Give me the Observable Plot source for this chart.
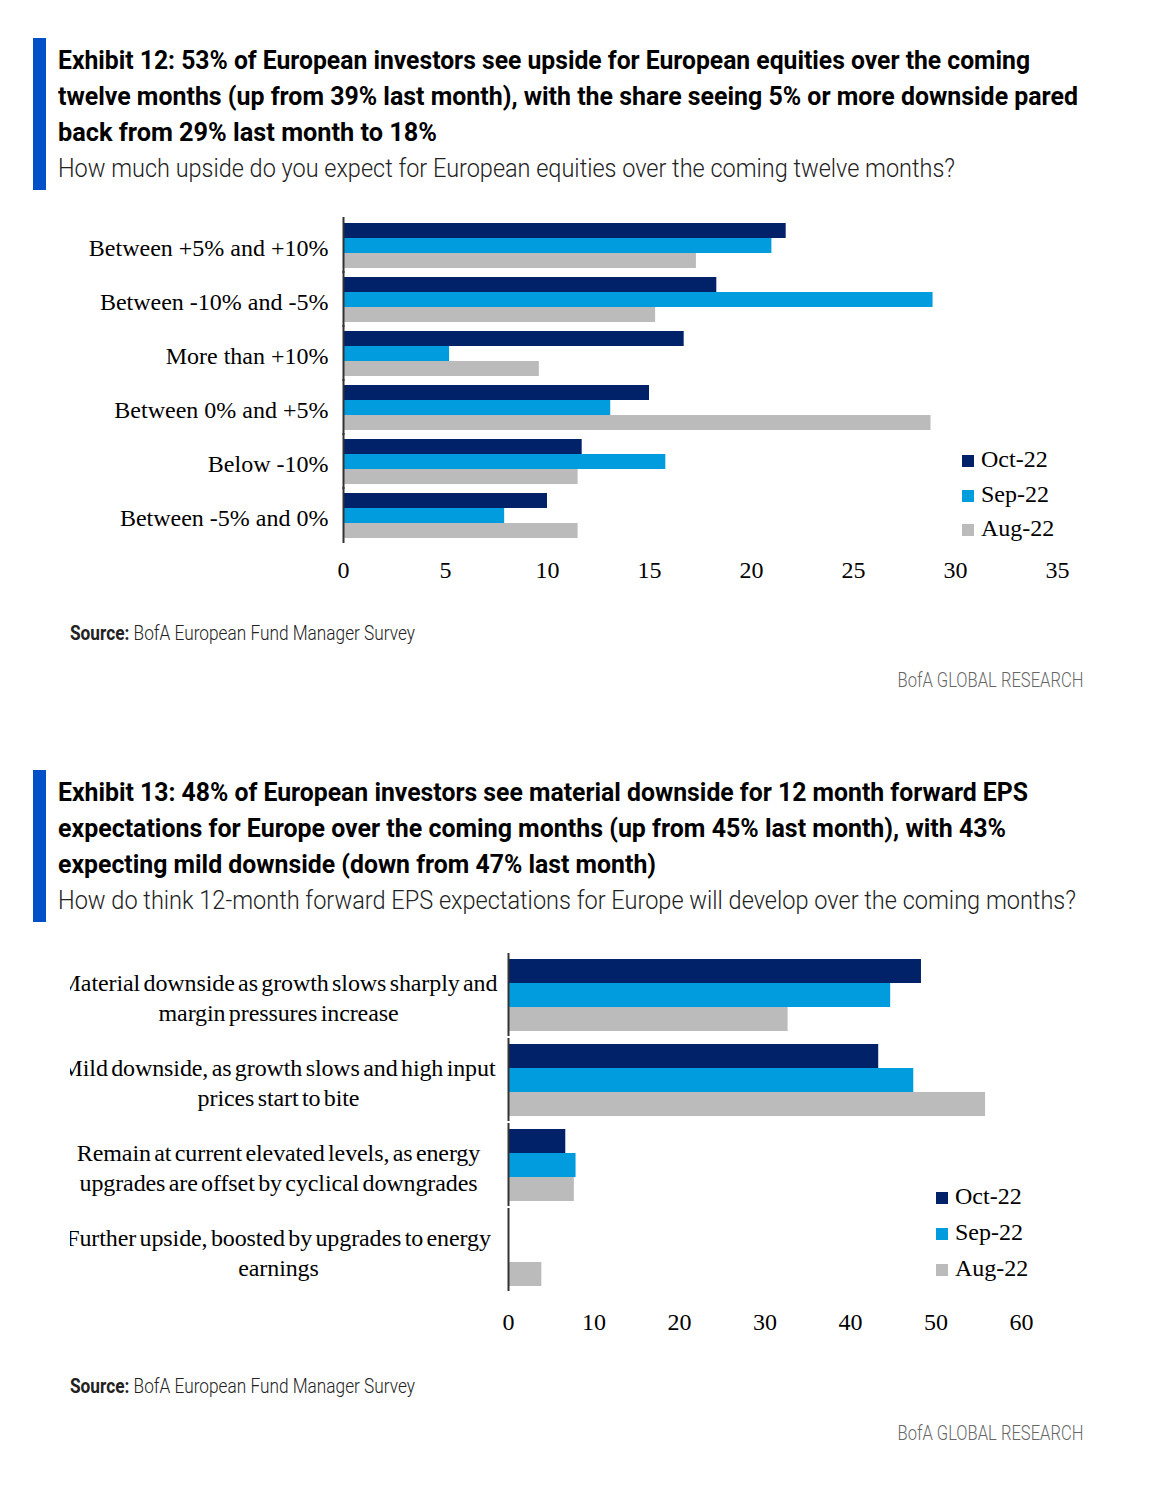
<!DOCTYPE html>
<html>
<head>
<meta charset="utf-8">
<script src="https://cdn.jsdelivr.net/npm/d3@7"></script>
<script src="https://cdn.jsdelivr.net/npm/@observablehq/plot@0.6"></script>
<style>
  html, body { margin: 0; padding: 0; background: #fff; }
  #page { position: relative; width: 1168px; height: 1488px; overflow: hidden; }
  .bar { position: absolute; left: 33px; width: 13px; background: #0050c8; }
  .title { position: absolute; left: 58px; white-space: nowrap; font-family: "Roboto", "Liberation Sans", sans-serif; color: #000; }
  .title .t { font-weight: bold; font-size: 26px; height: 36px; line-height: 36px; }
  .title .s { font-weight: 300; font-size: 26px; height: 37px; line-height: 37px; color: #222; }
  .fit { display: inline-block; white-space: nowrap; transform-origin: 0 50%; }
  .source { position: absolute; left: 70px; white-space: nowrap; font-family: "Roboto", "Liberation Sans", sans-serif; font-size: 20px; font-weight: 300; color: #222; }
  .source b { font-weight: bold; color: #222; }
  .brand { position: absolute; right: 85px; white-space: nowrap; font-family: "Roboto", "Liberation Sans", sans-serif; font-size: 20px; font-weight: 300; color: #666; }
  .brand .fit { transform-origin: 100% 50%; }
  .chart { position: absolute; left: 70px; }
  #chart2 svg text { word-spacing: -2.5px; letter-spacing: -0.1px; }
  .legend { position: absolute; font-family: "Liberation Serif", "Times New Roman", serif; font-size: 24px; color: #000; }
  .legend div { white-space: nowrap; }
  .legend span.sw { display: inline-block; width: 12px; height: 12px; margin-right: 7px; vertical-align: 0px; }
</style>
</head>
<body>
<div id="page">
  <div class="bar" style="top:38px;height:152px"></div>
  <div class="title" style="top:42px">
    <div class="t"><span class="fit" data-w="972">Exhibit 12: 53% of European investors see upside for European equities over the coming</span></div>
    <div class="t"><span class="fit" data-w="1020">twelve months (up from 39% last month), with the share seeing 5% or more downside pared</span></div>
    <div class="t"><span class="fit" data-w="379">back from 29% last month to 18%</span></div>
    <div class="s"><span class="fit" data-w="897">How much upside do you expect for European equities over the coming twelve months?</span></div>
  </div>
  <div id="chart1" class="chart" style="top:205px"></div>
  <div id="legend1" class="legend" style="left:962px;top:442px"></div>
  <div class="source" style="top:621px"><span class="fit" data-w="345"><b>Source:</b> BofA European Fund Manager Survey</span></div>
  <div class="brand" style="top:668px"><span class="fit" data-w="186">BofA GLOBAL RESEARCH</span></div>

  <div class="bar" style="top:770px;height:152px"></div>
  <div class="title" style="top:774px">
    <div class="t"><span class="fit" data-w="970">Exhibit 13: 48% of European investors see material downside for 12 month forward EPS</span></div>
    <div class="t"><span class="fit" data-w="948">expectations for Europe over the coming months (up from 45% last month), with 43%</span></div>
    <div class="t"><span class="fit" data-w="598">expecting mild downside (down from 47% last month)</span></div>
    <div class="s"><span class="fit" data-w="1018">How do think 12-month forward EPS expectations for Europe will develop over the coming months?</span></div>
  </div>
  <div id="chart2" class="chart" style="top:941px"></div>
  <div id="legend2" class="legend" style="left:936px;top:1178px"></div>
  <div class="source" style="top:1374px"><span class="fit" data-w="345"><b>Source:</b> BofA European Fund Manager Survey</span></div>
  <div class="brand" style="top:1421px"><span class="fit" data-w="186">BofA GLOBAL RESEARCH</span></div>
</div>
<script>
// ---- shared series ----
const seriesNames = ["Oct-22", "Sep-22", "Aug-22"];
const seriesColors = ["#012169", "#009cde", "#bbbbbb"];

// ---- Exhibit 12 data ----
const categories1 = [
  "Between +5% and +10%",
  "Between -10% and -5%",
  "More than +10%",
  "Between 0% and +5%",
  "Below -10%",
  "Between -5% and 0%"
];
const oct1 = [21.7, 18.3, 16.7, 15.0, 11.7, 10.0];
const sep1 = [21.0, 28.9, 5.2, 13.1, 15.8, 7.9];
const aug1 = [17.3, 15.3, 9.6, 28.8, 11.5, 11.5];
const xTicks1 = [0, 5, 10, 15, 20, 25, 30, 35];

// ---- Exhibit 13 data ----
const categories2 = [
  "Material downside as growth slows sharply and margin pressures increase",
  "Mild downside, as growth slows and high input prices start to bite",
  "Remain at current elevated levels, as energy upgrades are offset by cyclical downgrades",
  "Further upside, boosted by upgrades to energy earnings"
];
const labels2 = [
  "Material downside as growth slows sharply and\nmargin pressures increase",
  "Mild downside, as growth slows and high input\nprices start to bite",
  "Remain at current elevated levels, as energy\nupgrades are offset by cyclical downgrades",
  "Further upside, boosted by upgrades to energy\nearnings"
];
const oct2 = [48.3, 43.3, 6.7, 0];
const sep2 = [44.7, 47.4, 7.9, 0];
const aug2 = [32.7, 55.8, 7.7, 3.9];
const xTicks2 = [0, 10, 20, 30, 40, 50, 60];

function toRows(categories, lists) {
  const rows = [];
  categories.forEach((c, i) => {
    seriesNames.forEach((s, j) => rows.push({category: c, series: s, value: lists[j][i]}));
  });
  return rows;
}

function makeChart({rows, categories, labelOf, xDomain, xTicks, width, height, marginLeft, marginRight, marginTop, marginBottom, pi, xPad, fyAxis}) {
  return Plot.plot({
    width, height, marginLeft, marginRight, marginTop, marginBottom,
    style: {fontFamily: "'Liberation Serif', 'Times New Roman', serif", fontSize: "24px", color: "#000", background: "#fff"},
    x: {domain: xDomain, ticks: xTicks, tickSize: 0, tickPadding: xPad, label: null, tickFormat: d => String(d)},
    y: {domain: seriesNames, axis: null, padding: 0},
    fy: {domain: categories, paddingInner: pi, paddingOuter: pi / 2, axis: null},
    color: {domain: seriesNames, range: seriesColors},
    marks: [
      Plot.barX(rows, {x: "value", y: "series", fy: "category", fill: "series"}),
      Plot.ruleX([0], {stroke: "#333", strokeWidth: 2, insetTop: -5, insetBottom: -5}),
      Plot.axisFy({anchor: "left", label: null, tickSize: 0, tickFormat: labelOf, ...fyAxis})
    ]
  });
}

const chart1 = makeChart({
  rows: toRows(categories1, [oct1, sep1, aug1]),
  categories: categories1,
  labelOf: d => d,
  xDomain: [0, 35], xTicks: xTicks1,
  width: 1000, height: 387, marginLeft: 273, marginRight: 13, marginTop: 13, marginBottom: 50,
  pi: 0.14, xPad: 22,
  fyAxis: {tickPadding: 15, dy: 3}
});
document.getElementById("chart1").appendChild(chart1);

const chart2 = makeChart({
  rows: toRows(categories2, [oct2, sep2, aug2]),
  categories: categories2,
  labelOf: d => labels2[categories2.indexOf(d)],
  xDomain: [0, 60], xTicks: xTicks2,
  width: 980, height: 402, marginLeft: 438, marginRight: 29, marginTop: 10, marginBottom: 50,
  pi: 0.14, xPad: 26,
  fyAxis: {tickPadding: 230, textAnchor: "middle", lineHeight: 1.25, dy: 1}
});
document.getElementById("chart2").appendChild(chart2);

function legend(id, rowH) {
  const el = document.getElementById(id);
  seriesNames.forEach((s, i) => {
    const row = document.createElement("div");
    row.style.height = rowH + "px";
    row.style.lineHeight = rowH + "px";
    const sw = document.createElement("span");
    sw.className = "sw";
    sw.style.background = seriesColors[i];
    row.appendChild(sw);
    row.appendChild(document.createTextNode(s));
    el.appendChild(row);
  });
}
legend("legend1", 34.5);
legend("legend2", 36);

function fitAll() {
  document.querySelectorAll(".fit").forEach(sp => {
    sp.style.transform = "none";
    const w = sp.getBoundingClientRect().width;
    const target = +sp.dataset.w;
    if (w > 0) sp.style.transform = `scaleX(${target / w})`;
  });
}
fitAll();
if (document.fonts && document.fonts.ready) document.fonts.ready.then(fitAll);
</script>
</body>
</html>
